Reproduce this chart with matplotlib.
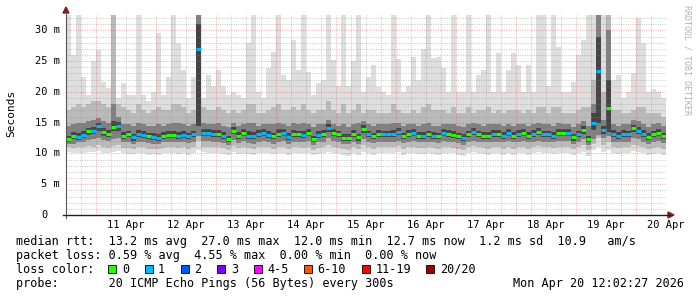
import matplotlib
matplotlib.use("Agg")
import matplotlib.pyplot as plt
import matplotlib.transforms as mtransforms
from matplotlib.patches import Rectangle, Polygon
from matplotlib.lines import Line2D
import numpy as np

# 120 consolidated steps of 2 h each, Apr 10 12:02 -> Apr 20 12:02 (ms)
median = [
    12.3, 12.9, 12.7, 13.0, 13.6, 13.7, 14.4, 13.5, 13.2, 14.3,
    14.4, 12.9, 13.1, 12.6, 13.2, 13.0, 12.8, 12.7, 12.5, 12.9,
    13.0, 13.0, 12.9, 13.0, 12.8, 13.1, 27.0, 13.4, 13.3, 13.2,
    13.2, 12.9, 12.3, 13.7, 12.9, 13.4, 12.9, 12.8, 13.2, 13.4,
    13.0, 12.8, 13.2, 13.4, 12.7, 13.2, 13.1, 13.0, 13.4, 12.3,
    13.0, 13.2, 14.1, 13.3, 13.1, 12.5, 12.5, 13.2, 12.6, 14.0,
    13.1, 12.8, 13.2, 13.1, 13.1, 13.2, 13.5, 12.8, 13.2, 13.3,
    12.9, 12.9, 13.1, 12.9, 12.8, 13.3, 13.2, 13.0, 12.8, 12.5,
    13.1, 13.5, 13.1, 12.9, 12.9, 13.2, 13.2, 12.9, 13.4, 12.9,
    13.2, 13.3, 12.9, 13.2, 13.5, 13.1, 13.1, 12.9, 13.4, 13.3,
    13.3, 12.6, 13.1, 13.8, 12.3, 15.0, 23.4, 13.8, 17.4, 13.2,
    12.9, 13.2, 13.1, 14.1, 13.7, 13.2, 12.7, 13.1, 13.4, 12.8,
]

# lost pings per step (0 -> green, 1 -> blue)
loss = [
    0, 0, 1, 1, 0, 1, 1, 0, 0, 0,
    1, 0, 0, 1, 1, 1, 0, 1, 1, 0,
    0, 0, 1, 1, 1, 1, 1, 1, 1, 1,
    0, 1, 0, 0, 0, 0, 1, 1, 1, 1,
    1, 0, 0, 1, 1, 0, 0, 1, 0, 0,
    1, 0, 1, 0, 0, 0, 0, 0, 0, 0,
    1, 0, 0, 1, 1, 1, 1, 0, 0, 1,
    0, 1, 0, 1, 0, 1, 0, 0, 0, 1,
    0, 1, 0, 0, 0, 1, 0, 1, 1, 0,
    1, 0, 0, 1, 0, 1, 1, 1, 0, 0,
    1, 0, 1, 0, 0, 1, 1, 1, 0, 1,
    1, 1, 1, 0, 1, 1, 0, 0, 0, 0,
]

# smoke: spread of the 20 pings per step
rtt_min = [
    10.2, 10.0, 10.1, 10.0, 10.3, 10.2, 10.4, 10.1, 10.0, 10.3,
    10.4, 10.0, 9.9, 9.9, 10.1, 10.0, 9.8, 9.9, 9.8, 10.0,
    10.0, 10.1, 9.9, 10.0, 9.8, 10.0, 10.6, 10.2, 10.1, 10.0,
    10.1, 9.9, 9.7, 10.2, 9.9, 10.1, 9.9, 9.8, 10.0, 10.1,
    10.0, 9.9, 10.0, 10.1, 9.8, 10.0, 10.0, 10.0, 10.1, 9.7,
    9.9, 10.0, 10.3, 10.1, 10.0, 9.7, 9.6, 10.0, 9.7, 10.3,
    10.0, 9.8, 10.0, 10.0, 10.0, 10.0, 10.2, 9.8, 10.0, 10.1,
    9.9, 9.9, 10.0, 9.9, 9.8, 10.1, 10.0, 10.0, 9.8, 9.6,
    10.0, 10.2, 10.0, 9.9, 9.8, 10.0, 10.0, 9.8, 10.1, 9.8,
    10.0, 10.1, 9.8, 10.0, 10.2, 10.0, 10.0, 9.9, 10.1, 10.0,
    10.1, 9.7, 10.0, 10.3, 9.6, 10.5, 11.0, 10.3, 10.5, 10.0,
    9.9, 10.0, 10.0, 10.4, 10.2, 10.0, 9.7, 9.9, 10.1, 9.8,
]
rtt_p10 = [
    11.0, 10.9, 11.0, 11.0, 11.2, 11.1, 11.4, 11.1, 10.9, 11.2,
    11.3, 10.9, 10.9, 10.8, 11.0, 11.0, 10.8, 10.8, 10.7, 10.9,
    11.0, 11.0, 10.9, 11.0, 10.8, 11.0, 12.0, 11.1, 11.1, 11.0,
    11.0, 10.9, 10.6, 11.2, 10.9, 11.1, 10.9, 10.8, 11.0, 11.1,
    11.0, 10.8, 11.0, 11.1, 10.8, 11.0, 11.0, 10.9, 11.1, 10.6,
    10.9, 11.0, 11.4, 11.0, 10.9, 10.7, 10.6, 11.0, 10.7, 11.3,
    11.0, 10.8, 11.0, 11.0, 11.0, 11.0, 11.2, 10.8, 11.0, 11.1,
    10.9, 10.9, 11.0, 10.9, 10.8, 11.1, 11.0, 10.9, 10.8, 10.6,
    11.0, 11.2, 11.0, 10.9, 10.8, 11.0, 11.0, 10.8, 11.1, 10.8,
    11.0, 11.1, 10.8, 11.0, 11.2, 11.0, 11.0, 10.9, 11.1, 11.0,
    11.1, 10.7, 11.0, 11.3, 10.6, 11.5, 12.5, 11.3, 11.8, 11.0,
    10.9, 11.0, 11.0, 11.4, 11.2, 11.0, 10.7, 10.9, 11.1, 10.8,
]
rtt_p25 = [
    11.5, 11.6, 11.8, 11.9, 12.2, 12.3, 12.5, 12.2, 12.0, 12.3,
    12.5, 11.8, 11.9, 11.6, 11.9, 11.8, 11.7, 11.6, 11.5, 11.8,
    11.9, 11.9, 11.8, 11.9, 11.7, 11.9, 12.8, 12.0, 12.0, 11.9,
    11.9, 11.7, 11.3, 12.2, 11.7, 12.0, 11.7, 11.6, 11.9, 12.0,
    11.8, 11.6, 11.9, 12.0, 11.6, 11.9, 11.9, 11.8, 12.0, 11.3,
    11.8, 11.9, 12.5, 12.0, 11.9, 11.5, 11.5, 11.9, 11.5, 12.4,
    11.9, 11.7, 11.9, 11.9, 11.9, 11.9, 12.1, 11.7, 11.9, 12.0,
    11.8, 11.8, 11.9, 11.8, 11.7, 12.0, 11.9, 11.8, 11.7, 11.4,
    11.9, 12.1, 11.9, 11.8, 11.8, 11.9, 11.9, 11.8, 12.0, 11.8,
    11.9, 12.0, 11.8, 11.9, 12.1, 11.9, 11.9, 11.8, 12.0, 12.0,
    12.0, 11.5, 11.9, 12.3, 11.3, 12.3, 13.0, 12.5, 12.8, 11.9,
    11.8, 11.9, 11.9, 12.5, 12.3, 11.9, 11.6, 11.9, 12.0, 11.7,
]
rtt_p40 = [
    11.9, 12.3, 12.2, 12.5, 13.0, 13.1, 13.7, 12.9, 12.7, 13.6,
    13.7, 12.4, 12.6, 12.1, 12.7, 12.5, 12.3, 12.2, 12.0, 12.4,
    12.5, 12.5, 12.4, 12.5, 12.3, 12.6, 14.5, 12.9, 12.8, 12.7,
    12.7, 12.4, 11.8, 13.1, 12.4, 12.9, 12.4, 12.3, 12.7, 12.9,
    12.5, 12.3, 12.7, 12.9, 12.2, 12.7, 12.6, 12.5, 12.9, 11.8,
    12.5, 12.7, 13.5, 12.8, 12.6, 12.0, 12.0, 12.7, 12.1, 13.4,
    12.6, 12.3, 12.7, 12.6, 12.6, 12.7, 13.0, 12.3, 12.7, 12.8,
    12.4, 12.4, 12.6, 12.4, 12.3, 12.8, 12.7, 12.5, 12.3, 12.0,
    12.6, 13.0, 12.6, 12.4, 12.4, 12.7, 12.7, 12.4, 12.9, 12.4,
    12.7, 12.8, 12.4, 12.7, 13.0, 12.6, 12.6, 12.4, 12.9, 12.8,
    12.8, 12.1, 12.6, 13.2, 11.8, 13.8, 15.0, 13.2, 13.5, 12.7,
    12.4, 12.7, 12.6, 13.5, 13.1, 12.7, 12.2, 12.6, 12.9, 12.3,
]
rtt_p60 = [
    12.9, 13.5, 13.3, 13.6, 14.2, 14.3, 15.0, 14.1, 13.8, 15.3,
    15.1, 13.5, 13.7, 13.2, 13.8, 13.6, 13.4, 13.3, 13.1, 13.5,
    13.6, 13.7, 13.5, 13.6, 13.4, 13.7, 31.0, 14.0, 13.9, 13.8,
    13.8, 13.5, 12.9, 14.3, 13.5, 14.0, 13.6, 13.5, 13.8, 14.0,
    13.6, 13.4, 13.9, 14.0, 13.3, 13.8, 13.7, 13.6, 14.0, 12.9,
    13.6, 13.8, 14.8, 13.9, 13.7, 13.1, 13.1, 13.8, 13.2, 14.6,
    13.7, 13.4, 13.8, 13.7, 13.7, 13.8, 14.1, 13.4, 13.8, 13.9,
    13.5, 13.5, 13.7, 13.5, 13.4, 13.9, 13.8, 13.6, 13.4, 13.1,
    13.7, 14.1, 13.7, 13.5, 13.5, 13.8, 13.8, 13.5, 14.0, 13.5,
    13.8, 13.9, 13.5, 13.8, 14.1, 13.7, 13.7, 13.5, 14.0, 13.9,
    13.9, 13.2, 13.7, 14.4, 12.9, 16.5, 29.0, 14.4, 22.0, 13.8,
    13.5, 13.8, 13.7, 14.7, 14.3, 13.8, 13.3, 13.7, 14.0, 13.4,
]
rtt_p75 = [
    14.5, 14.8, 15.0, 15.0, 15.3, 15.5, 15.8, 15.3, 15.0, 18.0,
    16.0, 14.8, 14.8, 14.5, 15.0, 14.8, 14.5, 14.5, 14.8, 14.5,
    14.8, 15.0, 15.0, 14.8, 14.5, 14.8, 32.5, 15.0, 14.8, 14.8,
    15.0, 14.5, 14.3, 15.0, 14.5, 14.8, 15.0, 15.0, 14.5, 14.8,
    14.8, 14.8, 15.0, 14.8, 14.5, 15.0, 14.8, 15.0, 14.8, 14.3,
    14.8, 14.8, 15.5, 14.8, 14.5, 14.8, 14.3, 14.8, 15.0, 15.3,
    14.8, 14.5, 14.8, 14.8, 14.8, 15.0, 15.0, 14.5, 14.8, 14.8,
    14.5, 14.8, 15.0, 14.5, 14.5, 14.8, 14.8, 14.8, 14.5, 14.3,
    14.8, 15.0, 14.8, 14.5, 14.8, 14.8, 14.8, 14.5, 14.8, 14.5,
    14.8, 14.8, 14.5, 14.8, 15.0, 14.8, 14.8, 14.5, 15.0, 14.8,
    14.8, 14.3, 14.8, 15.3, 14.5, 18.0, 32.5, 15.5, 30.0, 14.8,
    14.5, 14.8, 14.8, 15.5, 15.3, 14.8, 14.3, 14.8, 15.0, 14.5,
]
rtt_p90 = [
    17.0, 17.5, 18.0, 17.5, 18.0, 18.5, 18.5, 18.0, 17.5, 32.5,
    18.0, 17.5, 17.0, 16.5, 18.0, 17.0, 16.5, 17.0, 17.5, 17.0,
    17.0, 18.0, 18.0, 17.5, 16.5, 17.0, 33.0, 17.5, 17.0, 17.0,
    17.5, 17.0, 16.5, 17.0, 16.5, 17.0, 18.0, 18.0, 16.5, 16.5,
    17.0, 17.5, 18.0, 17.0, 17.0, 17.5, 17.0, 18.0, 17.0, 16.5,
    17.0, 17.0, 18.5, 17.0, 16.5, 18.0, 16.5, 17.0, 18.0, 16.5,
    17.0, 17.0, 16.5, 16.5, 16.5, 18.0, 17.0, 16.5, 16.5, 17.0,
    16.5, 17.5, 18.0, 17.0, 17.0, 17.0, 16.5, 17.5, 16.5, 16.5,
    17.5, 16.5, 17.0, 17.0, 17.5, 16.5, 17.0, 16.5, 17.0, 17.0,
    17.0, 16.5, 17.0, 16.5, 17.5, 17.5, 16.5, 17.5, 17.5, 16.5,
    16.5, 16.5, 17.0, 17.5, 17.5, 22.0, 33.0, 20.0, 33.0, 17.0,
    17.0, 16.5, 16.5, 17.0, 17.5, 17.5, 16.5, 16.5, 16.5, 16.0,
]
rtt_max = [
    33.0, 26.0, 33.0, 22.5, 19.5, 25.0, 26.8, 21.6, 20.6, 33.0,
    19.0, 21.4, 19.5, 19.5, 33.0, 19.5, 18.5, 20.0, 29.6, 19.5,
    22.4, 33.0, 28.0, 23.6, 19.0, 22.5, 33.0, 19.0, 22.8, 21.0,
    23.6, 21.0, 19.5, 20.0, 19.5, 19.0, 28.0, 33.0, 20.0, 19.0,
    23.9, 26.5, 33.0, 22.8, 22.0, 28.5, 23.6, 33.0, 23.3, 19.5,
    21.4, 22.0, 33.0, 25.2, 21.0, 33.0, 21.0, 25.0, 33.0, 20.0,
    22.4, 24.4, 20.8, 20.0, 19.5, 33.0, 25.4, 20.0, 21.0, 25.7,
    22.0, 27.0, 33.0, 25.5, 25.7, 23.9, 20.0, 33.0, 20.0, 20.0,
    33.0, 20.0, 22.8, 23.6, 33.0, 20.0, 26.3, 20.0, 23.6, 26.3,
    24.4, 20.0, 24.4, 20.0, 33.0, 33.0, 21.0, 33.0, 27.3, 20.0,
    20.0, 21.6, 26.0, 28.5, 33.0, 33.0, 33.0, 33.0, 33.0, 22.0,
    22.8, 19.0, 20.0, 23.0, 32.0, 28.0, 20.0, 20.5, 20.0, 19.0,
]

day_labels = ["11 Apr", "12 Apr", "13 Apr", "14 Apr", "15 Apr",
              "16 Apr", "17 Apr", "18 Apr", "19 Apr", "20 Apr"]
y_ticks = [0, 5, 10, 15, 20, 25, 30]
y_labels = ["0", "5 m", "10 m", "15 m", "20 m", "25 m", "30 m"]

loss_labels = ["0", "1", "2", "3", "4-5", "6-10", "11-19", "20/20"]
loss_colors = ["#26ff00", "#00b8ff", "#0059ff", "#7e00ff",
               "#ff00ff", "#ff5500", "#ff0000", "#a00000"]

W, H = 697, 297
MONO = "DejaVu Sans Mono"
STEP_H = 2.0
FIRST_MIDNIGHT = 11.959  # hours from left edge to Apr 11 00:00


def fx(px):
    return px / W


def fy(py):
    return 1 - py / H


fig = plt.figure(figsize=(6.97, 2.97), dpi=100)
fig.patch.set_facecolor("white")
ax = fig.add_axes([fx(66), fy(215), 600 / W, 200 / H])
ax.set_xlim(0, 240)
ax.set_ylim(0, 32.5)
ax.set_axis_off()

n = len(median)
edges = np.arange(n + 1) * STEP_H


def band(lo, hi, color):
    lo = np.append(lo, lo[-1])
    hi = np.append(hi, hi[-1])
    ax.fill_between(edges, lo, hi, step="post", color=color, lw=0, zorder=1)


band(rtt_min, rtt_max, "#dedede")
band(rtt_p10, rtt_p90, "#bababa")
band(rtt_p25, rtt_p75, "#808080")
band(rtt_p40, rtt_p60, "#444444")

# grid
grid_c = (0.56, 0.56, 0.56, 0.45)
mgrid_c = (0.87, 0.31, 0.31, 0.42)
for v in range(1, 33):
    c = mgrid_c if v % 5 == 0 else grid_c
    ax.axhline(v, color=c, lw=0.75, ls=(0, (1, 1.2)), zorder=2)
t = FIRST_MIDNIGHT - 6
while t < 240:
    major = abs(((t - FIRST_MIDNIGHT) % 24)) < 1e-6
    ax.axvline(t, color=mgrid_c if major else grid_c, lw=0.75,
               ls=(0, (1, 1.2)), zorder=2)
    t += 6

# median, coloured by loss
cols = [loss_colors[l] for l in loss]
ax.hlines(median, edges[:-1], edges[1:], colors=cols, lw=2.2,
          zorder=4, capstyle="butt")

# axes lines and arrows
axis_c = "#1f1f1f"
arrow_c = (0.5, 0.12, 0.12)
fig.add_artist(Line2D([fx(66), fx(66)], [fy(218), fy(12)], color="#555555", lw=0.8))
fig.add_artist(Line2D([fx(63), fx(670)], [fy(215), fy(215)], color=axis_c, lw=1.0))
fig.add_artist(Polygon([(fx(66), fy(7)), (fx(63), fy(13)), (fx(69), fy(13))],
                       closed=True, color=arrow_c, transform=fig.transFigure))
fig.add_artist(Polygon([(fx(674), fy(215)), (fx(668), fy(212)), (fx(668), fy(218))],
                       closed=True, color=arrow_c, transform=fig.transFigure))

# tick labels
tr = mtransforms.blended_transform_factory(fig.transFigure, ax.transData)
cw = 0.602 * 7.5 * 100 / 72
for v, lab in zip(y_ticks, y_labels):
    xr = 60 if lab.endswith("m") else 60 - 2 * cw
    ax.text(fx(xr), v, lab, transform=tr, ha="right", va="center",
            fontsize=7.5, family=MONO, color="black")
trx = mtransforms.blended_transform_factory(ax.transData, fig.transFigure)
for i, lab in enumerate(day_labels):
    ax.text(FIRST_MIDNIGHT + 12 + 24 * i, fy(228), lab, transform=trx,
            ha="center", va="baseline", fontsize=7.5, family=MONO, color="black")

fig.text(fx(11), fy(113), "Seconds", rotation=90, ha="center", va="center",
         fontsize=8, family=MONO)
fig.text(fx(687), fy(5), "RRDTOOL / TOBI OETIKER", rotation=270, ha="center",
         va="top", fontsize=6, family=MONO, color="#b0b0b0")

# legend text
LS = 8.5
lines = [
    (245, "median rtt:  13.2 ms avg  27.0 ms max  12.0 ms min  12.7 ms now  1.2 ms sd  10.9   am/s"),
    (259, "packet loss: 0.59 % avg  4.55 % max  0.00 % min  0.00 % now"),
    (273, "loss color:"),
    (287, "probe:       20 ICMP Echo Pings (56 Bytes) every 300s"),
]
for yb, s in lines:
    fig.text(fx(16), fy(yb), s, ha="left", va="baseline", fontsize=LS, family=MONO)
fig.text(fx(513), fy(287), "Mon Apr 20 12:02:27 2026", ha="left", va="baseline",
         fontsize=LS, family=MONO)

lw_char = 0.602 * LS * 100 / 72
x = 108.3
for lab, col in zip(loss_labels, loss_colors):
    fig.add_artist(Rectangle((fx(x), fy(273)), 8 / W, 8 / H, transform=fig.transFigure,
                             facecolor=col, edgecolor="black", lw=0.6))
    fig.text(fx(x + 13.5), fy(273), lab, ha="left", va="baseline",
             fontsize=LS, family=MONO)
    x += 13.5 + len(lab) * lw_char + 15.7

fig.savefig("out.png", dpi=100, facecolor="white")
